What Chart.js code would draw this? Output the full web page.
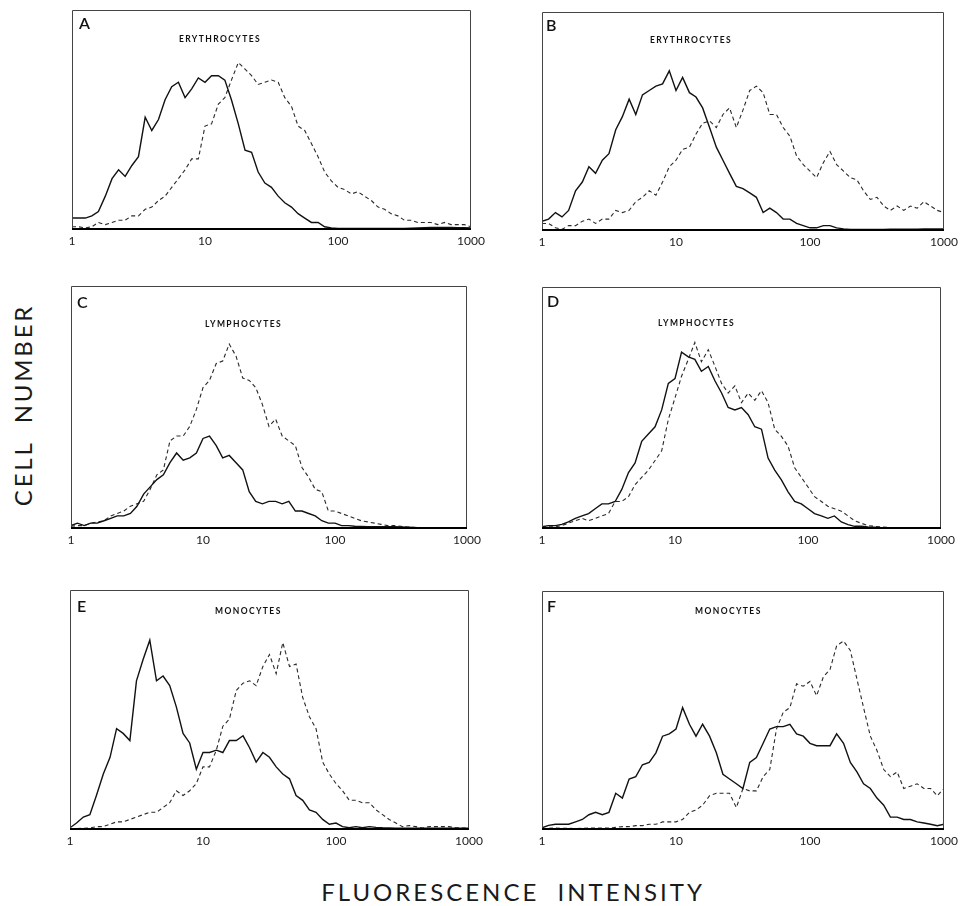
<!DOCTYPE html>
<html>
<head>
<meta charset="utf-8">
<script src="https://cdn.jsdelivr.net/npm/chart.js@4.4.1/dist/chart.umd.min.js"></script>
<style>
  body { margin: 0; background: #fff; }
  #page { position: relative; width: 962px; height: 906px; overflow: hidden; }
  #page canvas { position: absolute; }
  .ylab {
    position: absolute; left: 22px; top: 405px;
    transform: translate(-50%, -50%) rotate(-90deg);
    font: 400 24px Lato, "Open Sans", sans-serif; letter-spacing: 2.8px;
    white-space: pre; color: #1a1a1a;
  }
  .xlab {
    position: absolute; left: 513px; top: 891px;
    transform: translate(-50%, -50%);
    font: 400 24px Lato, "Open Sans", sans-serif; letter-spacing: 3px;
    white-space: pre; color: #1a1a1a;
  }
</style>
</head>
<body>
<div id="page">
  <div class="ylab">CELL  NUMBER</div>
  <div class="xlab">FLUORESCENCE  INTENSITY</div>
</div>
<script>
// ========== DATA ==========
// fluorescence channels (log scale), shared by all histograms
const fluorescence = [1.00,1.12,1.26,1.41,1.58,1.78,2.00,2.24,2.51,2.82,3.16,3.55,3.98,4.47,5.01,5.62,6.31,7.08,7.94,8.91,
  10.0,11.2,12.6,14.1,15.8,17.8,20.0,22.4,25.1,28.2,31.6,35.5,39.8,44.7,50.1,56.2,63.1,70.8,79.4,89.1,
  100,112,126,141,158,178,200,224,251,282,316,355,398,447,501,562,631,708,794,891,1000];

const tickValues = [1, 10, 100, 1000];
const tickLabels = ['1', '10', '100', '1000'];

// relative cell number, 100 = top of the panel
const solidA = [5,5,5,6,8,15,23,27,24,29, 33,51,45,50,59,65,67,60,64,69, 67,70,70,68,59,48,36,35,26,21,
  19,15,12,10,7,5,3,3,1,0.5, 0.3,0.3,0.2,0.2,0.2,0.2,0.2,0.2,0.2,0.2, 0.3,0.4,0.5,0.6,0.7,0.7,0.7,0.7,0.6,0.6,0.5];
const dashedA = [1,1,0.5,1,3,2,3,4,4,6, 6,9,10,13,15,19,23,27,32,32, 47,48,57,60,68,76,73,70,66,67,
  68,67,60,56,47,45,39,33,26,22, 19,18,16,17,15,13,10,9,7,6, 4,4,3,3,3,2,3,2,2,2,1];

const solidB = [4,5,8,6,9,18,22,29,26,32, 35,46,52,60,53,62,64,66,67,73, 64,70,63,61,56,47,38,32,26,20,
  19,17,15,8,10,8,5,5,3,2, 1,1,2,2,1,0.5,0.3,0.3,0.3,0.3, 0.3,0.3,0.4,0.4,0.4,0.4,0.4,0.5,0.5,0.5,0.5];
const dashedB = [3,3,1,0.3,2,2,4,5,3,5, 5,9,8,9,13,15,18,16,22,29, 32,37,38,44,49,50,47,53,56,47,
  55,64,66,63,53,53,47,43,34,30, 27,24,31,36,30,27,24,23,18,14, 15,11,9,11,9,11,10,13,11,9,8];

const solidC = [1,2,1,2,2,3,4,5,5,6, 9,14,17,20,22,27,31,28,29,31, 37,38,34,29,30,27,24,15,11,10,
  11,11,10,11,7,7,6,5,3,2, 2,1,1,0.7,0.6,0.5,0.5,0.5,0.5,0.5, 0.4,0.3,0.2,0,0,0,0,0,0,0,0];
const dashedC = [0.7,1,1,2,2.5,3,5,6,7,9, 10,11,16,22,24,36,38,38,42,49, 58,61,68,69,76,71,62,61,58,51,
  42,45,38,36,34,25,21,16,15,7, 7,6,5,4,3,2.5,2,1.5,1,1, 0.7,0.4,0.2,0,0,0,0,0,0,0,0];

const solidD = [0.5,1,1,1.5,2.5,4,5,6,8,10, 10,11,16,23,27,36,39,42,49,60, 62,73,71,70,65,67,61,56,50,49,
  50,47,42,41,29,24,20,15,11,10, 8,6,5,4,5,2.5,1.4,0.7,0.7,0.4, 0.3,0.1,0,0,0,0,0,0,0,0,0];
const dashedD = [0.2,0.5,0.5,1,2,3,4,3,4,5, 6,11,11,13,18,21,24,28,32,45, 54,63,70,77,69,74,67,60,56,59,
  52,56,53,57,52,41,38,34,25,21, 17,13,11,9,8,7,5,3,2,1, 0.7,0.4,0.3,0,0,0,0,0,0,0,0];

const solidE = [0.5,2.5,5,6,14,23,30,42,40,37, 62,71,79,62,64,60,51,40,36,25, 32,32,33,32,37,37,39,34,28,32,
  30,26,23,21,14,12,8,7,4,2, 2.5,1,0.5,1,0.5,1,0.7,0.5,0.4,0.3, 0.3,0.3,0.3,0.3,0.3,0.3,0.3,0.3,0.3,0.3,0.3];
const dashedE = [0,0.2,0.3,0.4,1,1,2,3,3,4, 5,6,7,7,9,11,16,14,16,19, 26,26,33,43,46,58,61,62,60,68,
  73,65,78,68,69,55,47,42,28,23, 19,16,12,12,11,11,8,6,4,2.5, 1,1.4,1,0.4,1,1,1,1,0.5,0.4,0.3];

const solidF = [0.5,1.5,2,2,2,3,4,6,7,6, 7,15,13,21,22,27,28,32,39,40, 42,51,44,39,44,39,32,23,21,19,
  17,28,30,36,42,43,43,44,40,39, 36,35,35,35,40,36,28,24,19,17, 13,10,5,5,4,4,3,2.5,2,1.4,2];
const dashedF = [0,0.3,0.4,0.3,0.3,0.2,0.3,0.4,0.4,0.4, 0.4,0.7,1,1,1.4,1.4,2,2,3,3, 3,4,7,8,10,14,15,15,15,9,
  17,16,16,22,25,42,49,51,61,60, 62,56,64,67,77,79,75,63,51,39, 33,25,22,24,17,18,19,17,17,14,17];

// ========== PANEL LAYOUT ==========
const panels = [
  { letter: 'A', title: 'ERYTHROCYTES', box: [72, 10, 471, 229], letterAt: [7, 14], titleAt: [107, 29], solid: solidA, dashed: dashedA },
  { letter: 'B', title: 'ERYTHROCYTES', box: [542, 12, 944, 230], letterAt: [4, 14], titleAt: [108, 28], solid: solidB, dashed: dashedB },
  { letter: 'C', title: 'LYMPHOCYTES', box: [71, 286, 467, 528], letterAt: [6, 17], titleAt: [134, 38], solid: solidC, dashed: dashedC },
  { letter: 'D', title: 'LYMPHOCYTES', box: [542, 287, 941, 528], letterAt: [5, 15], titleAt: [116, 36], solid: solidD, dashed: dashedD },
  { letter: 'E', title: 'MONOCYTES', box: [70, 590, 469, 829], letterAt: [7, 17], titleAt: [145, 21], solid: solidE, dashed: dashedE },
  { letter: 'F', title: 'MONOCYTES', box: [542, 591, 944, 829], letterAt: [5, 16], titleAt: [153, 20], solid: solidF, dashed: dashedF }
];

const PAD_X = 22, PAD_TOP = 4, AXIS_H = 28;

// frame, panel letter and cell-type title
const framePlugin = {
  id: 'frame',
  afterDraw(chart, args, opts) {
    const { ctx, chartArea: a } = chart;
    ctx.save();
    ctx.strokeStyle = '#444';
    ctx.lineWidth = 1;
    ctx.beginPath();
    ctx.moveTo(a.left + 0.5, a.bottom);
    ctx.lineTo(a.left + 0.5, a.top + 0.5);
    ctx.lineTo(a.right - 0.5, a.top + 0.5);
    ctx.lineTo(a.right - 0.5, a.bottom);
    ctx.stroke();
    ctx.strokeStyle = '#000';
    ctx.lineWidth = 2;
    ctx.beginPath();
    ctx.moveTo(a.left, a.bottom);
    ctx.lineTo(a.right, a.bottom);
    ctx.stroke();

    ctx.fillStyle = '#111';
    ctx.textBaseline = 'middle';
    ctx.textAlign = 'left';
    ctx.font = '600 16px Lato, "DejaVu Sans", sans-serif';
    ctx.fillText(opts.letter, a.left + opts.letterAt[0], a.top + opts.letterAt[1]);
    ctx.font = '700 8.5px Lato, "DejaVu Sans", sans-serif';
    ctx.letterSpacing = '1.4px';
    ctx.fillText(opts.title, a.left + opts.titleAt[0], a.top + opts.titleAt[1]);
    ctx.restore();
  }
};

const page = document.getElementById('page');

panels.forEach(p => {
  const [l, t, r, b] = p.box;
  const canvas = document.createElement('canvas');
  const w = (r - l) + 2 * PAD_X;
  const h = (b - t) + PAD_TOP + AXIS_H;
  canvas.width = w;
  canvas.height = h;
  canvas.style.left = (l - PAD_X) + 'px';
  canvas.style.top = (t - PAD_TOP) + 'px';
  canvas.style.width = w + 'px';
  canvas.style.height = h + 'px';
  page.appendChild(canvas);

  new Chart(canvas, {
    type: 'line',
    data: {
      datasets: [
        {
          label: 'control',
          data: fluorescence.map((x, i) => ({ x: x, y: p.solid[i] })),
          borderColor: '#111',
          borderWidth: 1.4,
          pointRadius: 0,
          tension: 0,
          fill: false
        },
        {
          label: 'test',
          data: fluorescence.map((x, i) => ({ x: x, y: p.dashed[i] })),
          borderColor: '#2a2a2a',
          borderWidth: 1.1,
          borderDash: [4, 3],
          pointRadius: 0,
          tension: 0,
          fill: false
        }
      ]
    },
    options: {
      responsive: false,
      animation: false,
      events: [],
      layout: { padding: { left: PAD_X, right: PAD_X, top: PAD_TOP, bottom: 0 } },
      plugins: {
        legend: { display: false },
        tooltip: { enabled: false },
        frame: { letter: p.letter, title: p.title, letterAt: p.letterAt, titleAt: p.titleAt }
      },
      scales: {
        x: {
          type: 'logarithmic',
          min: 1,
          max: 1000,
          afterBuildTicks: axis => { axis.ticks = tickValues.map(v => ({ value: v })); },
          afterFit: axis => { axis.height = AXIS_H; },
          grid: { display: false, drawTicks: false },
          border: { display: false },
          ticks: {
            autoSkip: false,
            maxRotation: 0,
            padding: 5,
            color: '#222',
            font: { family: 'Lato, "DejaVu Sans", sans-serif', size: 12 },
            callback: v => tickLabels[tickValues.indexOf(v)]
          }
        },
        y: { display: false, min: 0, max: 100 }
      }
    },
    plugins: [framePlugin]
  });
});
</script>
</body>
</html>
